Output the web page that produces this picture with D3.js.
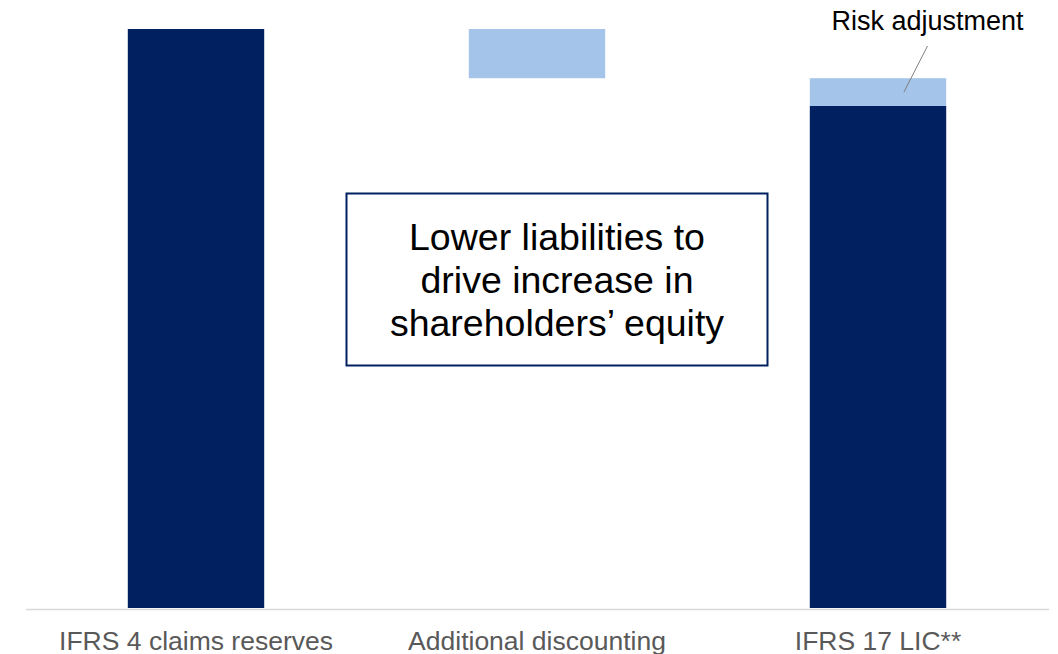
<!DOCTYPE html>
<html>
<head>
<meta charset="utf-8">
<script src="https://cdn.jsdelivr.net/npm/d3@7"></script>
<style>
  body { margin: 0; background: #fff; }
  svg { font-family: "Liberation Sans", Arial, sans-serif; }
</style>
</head>
<body>
<div id="chart"></div>
<script>
// categories and values (IFRS 4 reserves indexed to 100)
var categories = ["IFRS 4 claims reserves", "Additional discounting", "IFRS 17 LIC**"]
var baseValues = [100, 0, 86.7]       // dark navy part
var discountValues = [0, 8.5, 0]      // floating light step (reduction)
var riskAdjValues = [0, 0, 4.8]       // light part on top of LIC
var boxLines = ["Lower liabilities to", "drive increase in", "shareholders\u2019 equity"]

var width = 1058, height = 654
var dark = "#002060", light = "#a4c4e9"

var svg = d3.select("#chart").append("svg")
    .attr("width", width)
    .attr("height", height)

var x = d3.scaleBand()
    .domain(categories)
    .range([25.5, 1048.5])
    .paddingInner(0.6)
    .paddingOuter(0.3)

var y = d3.scaleLinear()
    .domain([0, 100])
    .range([608, 29])

// build segments
var segs = []
categories.forEach((c, i) => {
    if (baseValues[i] > 0) segs.push({ c: c, y0: 0, y1: baseValues[i], fill: dark })
    if (discountValues[i] > 0) {
        var top = baseValues[0]
        segs.push({ c: c, y0: top - discountValues[i], y1: top, fill: light })
    }
    if (riskAdjValues[i] > 0) segs.push({ c: c, y0: baseValues[i], y1: baseValues[i] + riskAdjValues[i], fill: light })
})

svg.append("g")
    .selectAll("rect")
    .data(segs)
    .enter()
    .append("rect")
    .attr("x", (d) => x(d.c))
    .attr("width", x.bandwidth())
    .attr("y", (d) => y(d.y1))
    .attr("height", (d) => y(d.y0) - y(d.y1))
    .style("fill", (d) => d.fill)

// x axis
var xAxis = svg.append("g")
    .attr("transform", "translate(0," + (y(0) + 1) + ")")
    .call(d3.axisBottom(x).tickSize(0).tickPadding(22))
xAxis.select(".domain").attr("stroke", "#d9d9d9").attr("stroke-width", 1.5)
xAxis.selectAll("text")
    .style("font-size", "26.5px")
    .style("fill", "#595959")
    .style("font-family", "'Liberation Sans', Arial, sans-serif")

// risk adjustment annotation
var lic = categories[2]
svg.append("text")
    .attr("x", 927.5)
    .attr("y", 30)
    .attr("text-anchor", "middle")
    .style("font-size", "27px")
    .style("fill", "#000")
    .text("Risk adjustment")
svg.append("line")
    .attr("x1", 927.5).attr("y1", 46)
    .attr("x2", x(lic) + x.bandwidth() * 0.69)
    .attr("y2", y(baseValues[2] + riskAdjValues[2] / 2))
    .attr("stroke", "#7f7f7f")
    .attr("stroke-width", 1)

// text box
var box = svg.append("g")
box.append("rect")
    .attr("x", 346.5).attr("y", 193.5)
    .attr("width", 421).attr("height", 172)
    .attr("fill", "#fff")
    .attr("stroke", dark)
    .attr("stroke-width", 2)
box.selectAll("text")
    .data(boxLines)
    .enter()
    .append("text")
    .attr("x", 557)
    .attr("y", (d, i) => 250 + i * 43)
    .attr("text-anchor", "middle")
    .style("font-size", "37.5px")
    .style("fill", "#000")
    .text((d) => d)
</script>
</body>
</html>
